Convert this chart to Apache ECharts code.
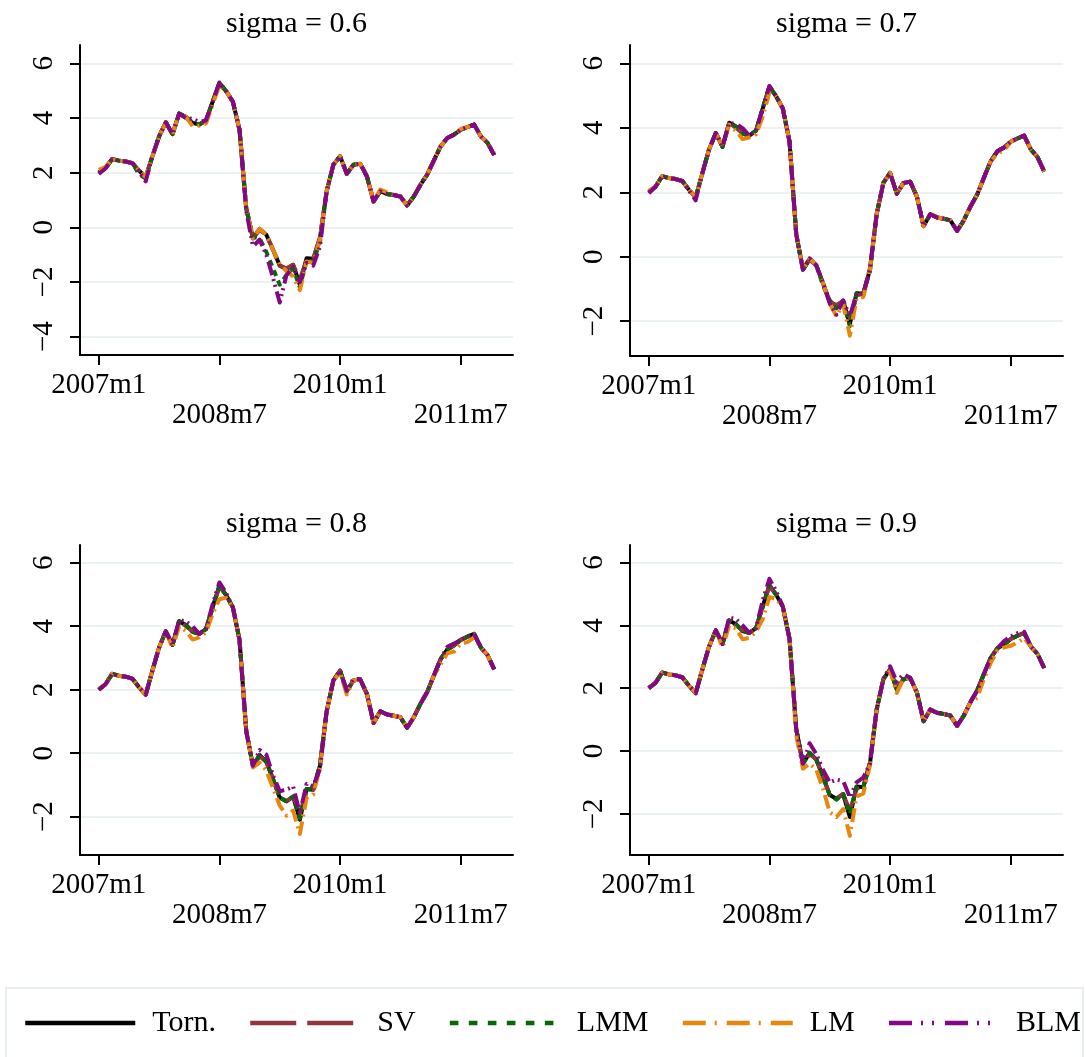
<!DOCTYPE html>
<html><head><meta charset="utf-8">
<script src="https://cdn.jsdelivr.net/npm/echarts@6/dist/echarts.min.js"></script>
<style>html,body{margin:0;padding:0;background:#fff}#c{width:1086px;height:1057px}</style>
</head><body><div id="c"></div>
<script>
const months = [
'2007m1','2007m2','2007m3','2007m4','2007m5','2007m6','2007m7','2007m8','2007m9','2007m10','2007m11','2007m12',
'2008m1','2008m2','2008m3','2008m4','2008m5','2008m6','2008m7','2008m8','2008m9','2008m10','2008m11','2008m12',
'2009m1','2009m2','2009m3','2009m4','2009m5','2009m6','2009m7','2009m8','2009m9','2009m10','2009m11','2009m12',
'2010m1','2010m2','2010m3','2010m4','2010m5','2010m6','2010m7','2010m8','2010m9','2010m10','2010m11','2010m12',
'2011m1','2011m2','2011m3','2011m4','2011m5','2011m6','2011m7','2011m8','2011m9','2011m10','2011m11','2011m12'];
const xTickLabels = ['2007m1','2008m7','2010m1','2011m7'];
const panelTitles = ['sigma = 0.6','sigma = 0.7','sigma = 0.8','sigma = 0.9'];
const seriesNames = ['Torn.','SV','LMM','LM','BLM'];
const yTicksA = [-4,-2,0,2,4,6];
const yTicksB = [-2,0,2,4,6];

const torn = [2.00,2.17,2.50,2.44,2.41,2.35,2.08,1.84,2.60,3.33, 3.84,3.41,4.16,4.04,3.82,3.76,3.91,4.60,5.28,4.98, 4.60,3.57,0.70,-0.40,-0.06,-0.27,-0.82,-1.40,-1.52,-1.37, -2.10,-1.13,-1.15,-0.40,1.32,2.29,2.60,1.96,2.29,2.33, 1.87,0.95,1.32,1.22,1.18,1.13,0.80,1.13,1.56,1.93, 2.45,2.96,3.27,3.39,3.57,3.67,3.76,3.33,3.09,2.64];
const sv = [2.02,2.17,2.50,2.44,2.41,2.35,2.08,1.84,2.60,3.33, 3.84,3.41,4.16,4.00,3.85,3.76,3.91,4.60,5.25,4.98, 4.60,3.57,0.70,-0.40,-0.10,-0.27,-0.82,-1.40,-1.50,-1.37, -1.90,-1.20,-1.15,-0.35,1.32,2.29,2.60,1.96,2.29,2.33, 1.87,0.95,1.32,1.22,1.18,1.13,0.80,1.13,1.56,1.93, 2.45,2.96,3.27,3.39,3.57,3.67,3.76,3.33,3.09,2.64];

const lmm06 = [2.00,2.17,2.50,2.44,2.41,2.35,1.95,1.78,2.60,3.33, 3.84,3.41,4.16,4.04,3.82,3.76,3.91,4.60,5.28,4.98, 4.60,3.57,0.70,-0.35,-0.40,-0.90,-1.50,-2.10,-1.75,-1.50, -2.20,-1.20,-1.25,-0.55,1.32,2.29,2.60,1.96,2.29,2.33, 1.87,0.95,1.32,1.22,1.18,1.13,0.80,1.13,1.56,1.93, 2.45,2.96,3.27,3.39,3.57,3.67,3.76,3.33,3.09,2.64];
const lm06 = [2.10,2.20,2.50,2.44,2.41,2.35,2.08,1.84,2.60,3.33, 3.84,3.41,4.16,4.04,3.70,3.72,3.80,4.50,5.20,4.98, 4.60,3.57,0.70,-0.40,-0.06,-0.27,-0.82,-1.35,-1.60,-1.80, -2.30,-1.25,-1.30,-0.45,1.32,2.29,2.60,1.96,2.29,2.33, 1.87,0.95,1.38,1.28,1.18,1.13,0.80,1.13,1.56,1.93, 2.45,2.96,3.27,3.39,3.60,3.67,3.76,3.33,3.09,2.70];
const blm06 = [1.95,2.15,2.50,2.44,2.41,2.35,2.05,1.68,2.60,3.33, 3.84,3.41,4.16,4.00,3.97,3.85,3.91,4.60,5.30,4.98, 4.60,3.57,0.60,-0.70,-0.45,-1.00,-1.85,-2.75,-1.75,-1.45, -2.00,-1.30,-1.40,-0.70,1.32,2.29,2.60,1.96,2.29,2.33, 1.87,0.95,1.32,1.22,1.18,1.13,0.80,1.13,1.56,1.93, 2.45,2.96,3.27,3.39,3.57,3.67,3.76,3.33,3.09,2.64];

const lmm07 = [2.00,2.17,2.50,2.44,2.41,2.35,2.08,1.84,2.60,3.33, 3.84,3.41,4.16,4.04,3.82,3.76,3.91,4.60,5.28,4.98, 4.60,3.57,0.70,-0.40,-0.06,-0.27,-0.90,-1.35,-1.60,-1.40, -2.15,-1.13,-1.15,-0.45,1.32,2.29,2.60,1.96,2.29,2.33, 1.87,0.95,1.32,1.22,1.18,1.13,0.80,1.13,1.56,1.93, 2.45,2.96,3.27,3.39,3.57,3.67,3.76,3.33,3.09,2.64];
const lm07 = [2.05,2.17,2.50,2.44,2.41,2.35,2.08,1.84,2.60,3.33, 3.84,3.41,4.10,3.90,3.65,3.70,3.80,4.35,5.10,4.98, 4.60,3.57,0.70,-0.40,-0.06,-0.27,-0.82,-1.45,-1.85,-1.45, -2.45,-1.30,-1.25,-0.40,1.32,2.29,2.60,1.96,2.29,2.33, 1.87,0.95,1.35,1.22,1.18,1.13,0.80,1.13,1.56,1.93, 2.45,2.96,3.20,3.30,3.57,3.67,3.76,3.33,3.09,2.64];
const blm07 = [1.97,2.17,2.50,2.44,2.41,2.35,2.05,1.75,2.60,3.33, 3.84,3.41,4.15,4.12,3.99,3.76,3.91,4.60,5.30,4.98, 4.60,3.57,0.70,-0.40,-0.06,-0.27,-0.82,-1.45,-1.80,-1.35, -1.85,-1.15,-1.15,-0.40,1.32,2.29,2.60,1.96,2.29,2.33, 1.87,0.95,1.32,1.22,1.18,1.13,0.80,1.13,1.56,1.93, 2.45,2.96,3.27,3.39,3.57,3.67,3.76,3.33,3.09,2.64];

const lmm08 = [2.00,2.17,2.50,2.44,2.41,2.35,2.08,1.84,2.60,3.33, 3.84,3.41,4.16,4.04,3.82,3.76,3.91,4.60,5.28,4.98, 4.60,3.57,0.70,-0.40,-0.06,-0.27,-0.82,-1.40,-1.52,-1.37, -2.05,-1.13,-1.15,-0.40,1.32,2.29,2.60,1.96,2.29,2.33, 1.87,0.95,1.32,1.22,1.18,1.13,0.80,1.13,1.56,1.93, 2.45,2.96,3.27,3.39,3.57,3.67,3.76,3.33,3.09,2.64];
const lm08 = [2.02,2.17,2.50,2.44,2.41,2.35,2.08,1.84,2.60,3.33, 3.84,3.32,4.00,3.85,3.58,3.65,3.80,4.40,4.85,4.90, 4.60,3.57,0.70,-0.45,-0.30,-0.55,-1.10,-1.65,-1.97,-1.81, -2.55,-1.40,-1.30,-0.45,1.32,2.29,2.55,1.85,2.29,2.33, 1.87,0.95,1.32,1.22,1.18,1.13,0.80,1.13,1.56,1.93, 2.45,2.80,3.15,3.20,3.45,3.50,3.65,3.33,3.09,2.64];
const blm08 = [2.00,2.17,2.50,2.44,2.41,2.35,2.08,1.84,2.60,3.33, 3.84,3.41,4.20,4.15,4.00,3.76,3.91,4.70,5.38,5.05, 4.60,3.57,0.70,-0.40,0.10,-0.05,-0.70,-1.20,-1.15,-1.05, -1.90,-0.97,-1.05,-0.50,1.32,2.29,2.60,1.96,2.35,2.33, 1.87,0.95,1.32,1.22,1.18,1.13,0.80,1.13,1.56,1.93, 2.45,2.96,3.35,3.45,3.57,3.67,3.76,3.33,3.09,2.64];

const lmm09 = [2.00,2.17,2.50,2.44,2.41,2.35,2.08,1.84,2.60,3.33, 3.84,3.41,4.16,4.04,3.82,3.76,3.91,4.60,5.28,4.98, 4.60,3.57,0.70,-0.40,-0.06,-0.27,-0.82,-1.40,-1.55,-1.37, -2.00,-1.13,-1.15,-0.40,1.32,2.29,2.60,1.96,2.29,2.33, 1.87,0.95,1.32,1.22,1.18,1.13,0.80,1.13,1.56,1.93, 2.45,2.96,3.27,3.39,3.57,3.67,3.76,3.33,3.09,2.64];
const lm09 = [2.00,2.17,2.50,2.44,2.41,2.35,2.08,1.84,2.60,3.33, 3.84,3.30,4.00,3.90,3.56,3.60,3.80,4.20,4.90,4.85, 4.60,3.57,0.50,-0.56,-0.40,-0.60,-1.20,-1.95,-2.10,-1.85, -2.70,-1.45,-1.35,-0.45,1.32,2.29,2.55,1.85,2.29,2.33, 1.87,0.95,1.32,1.22,1.18,1.13,0.80,1.13,1.56,1.70, 2.30,2.80,3.20,3.30,3.35,3.45,3.60,3.33,3.09,2.64];
const blm09 = [2.00,2.17,2.50,2.44,2.41,2.35,2.08,1.84,2.60,3.33, 3.84,3.41,4.25,4.20,4.00,3.76,3.91,4.80,5.48,5.10, 4.60,3.57,0.70,-0.40,0.25,-0.10,-0.60,-1.00,-0.91,-0.95, -1.47,-1.00,-0.85,-0.40,1.32,2.29,2.70,2.20,2.45,2.33, 1.87,0.95,1.32,1.22,1.18,1.13,0.80,1.13,1.56,1.93, 2.45,2.96,3.27,3.50,3.65,3.75,3.80,3.33,3.09,2.64];

const panelData = [
  [torn, sv, lmm06, lm06, blm06],
  [torn, sv, lmm07, lm07, blm07],
  [torn, sv, lmm08, lm08, blm08],
  [torn, sv, lmm09, lm09, blm09]
];

// layout & style
const FONT = 'Liberation Serif, Times New Roman, serif';
const grids = [
  {left: 80, top: 45, width: 433, height: 310, ymin: -4.67, ymax: 6.67, ticks: yTicksA},
  {left: 630, top: 45, width: 433, height: 311, ymin: -3.08, ymax: 6.57, ticks: yTicksB},
  {left: 80, top: 545, width: 433, height: 310, ymin: -3.21, ymax: 6.56, ticks: yTicksB},
  {left: 630, top: 545, width: 433, height: 310, ymin: -3.31, ymax: 6.56, ticks: yTicksB}
];
const colors = {'Torn.': '#000000', 'SV': '#92363E', 'LMM': '#076807', 'LM': '#E8870E', 'BLM': '#840884'};
const plotDash = {'Torn.': 'solid', 'SV': [22, 7], 'LMM': [6, 5], 'LM': [14, 5, 2, 5], 'BLM': [14, 4, 2, 4, 2, 5]};
const legendDash = {'Torn.': 'solid', 'SV': [46, 11], 'LMM': [8.6, 10.4], 'LM': [23, 9, 2, 10], 'BLM': [23, 9, 2, 9, 2, 11]};

const xTickIdx = xTickLabels.map(l => months.indexOf(l));
const fmtY = v => (v < 0 ? '\u2212' + Math.abs(v) : String(v));

const option = {
  animation: false,
  backgroundColor: '#ffffff',
  title: grids.map((g, k) => ({
    text: panelTitles[k], left: g.left + g.width / 2, textAlign: 'center', top: g.top - 36, padding: 0,
    textStyle: {fontFamily: FONT, fontSize: 30, fontWeight: 'normal', color: '#000'}
  })),
  grid: grids.map(g => ({left: g.left, top: g.top, width: g.width, height: g.height, containLabel: false, outerBoundsMode: 'none'})),
  xAxis: grids.map((g, k) => ({
    type: 'value', gridIndex: k, min: -2.8, max: 61.8,
    axisLine: {show: true, onZero: false, lineStyle: {color: '#000', width: 2}},
    axisTick: {show: true, inside: false, length: 10, customValues: xTickIdx, lineStyle: {color: '#000', width: 2}},
    axisLabel: {show: true, customValues: xTickIdx, margin: 15, fontFamily: FONT, fontSize: 29, color: '#000', lineHeight: 30,
      formatter: v => { const lab = months[Math.round(v)]; return xTickLabels.indexOf(lab) % 2 === 1 ? '\n' + lab : lab; }},
    splitLine: {show: false}
  })),
  yAxis: grids.map((g, k) => ({
    type: 'value', gridIndex: k, min: g.ymin, max: g.ymax,
    axisLine: {show: true, onZero: false, lineStyle: {color: '#000', width: 2}},
    axisTick: {show: true, inside: false, length: 10, customValues: g.ticks, lineStyle: {color: '#000', width: 2}},
    axisLabel: {show: true, customValues: g.ticks, rotate: 90, margin: 21, fontFamily: FONT, fontSize: 29, color: '#000', formatter: fmtY},
    splitLine: {show: true, lineStyle: {color: '#EAF2F3', width: 2}}
  })),
  legend: {
    left: 23, top: 1008, padding: 0, itemWidth: 110, itemHeight: 5, itemGap: 32, selectedMode: false,
    itemStyle: {opacity: 0},
    textStyle: {fontFamily: FONT, fontSize: 30, color: '#000', padding: [0, 0, 0, 12]},
    data: seriesNames.map(n => ({name: n, lineStyle: {color: colors[n], width: 4.5, type: legendDash[n], cap: 'butt'}, itemStyle: {opacity: 0}}))
  },
  graphic: [{type: 'rect', shape: {x: 6, y: 988, width: 1077, height: 90}, style: {fill: '#fff', stroke: '#E6EEF2', lineWidth: 2}, z: -10, silent: true}],
  series: []
};

panelData.forEach((arrs, k) => {
  arrs.forEach((arr, s) => {
    const n = seriesNames[s];
    option.series.push({
      type: 'line', name: n, xAxisIndex: k, yAxisIndex: k, symbol: 'none', showSymbol: false, silent: true,
      data: arr.map((v, i) => [i, v]),
      lineStyle: {color: colors[n], width: 4, type: plotDash[n], cap: 'butt', join: 'round'},
      itemStyle: {color: colors[n]},
      z: 2 + s
    });
  });
});

const chart = echarts.init(document.getElementById('c'), null, {renderer: 'canvas'});
chart.setOption(option);
</script></body></html>
